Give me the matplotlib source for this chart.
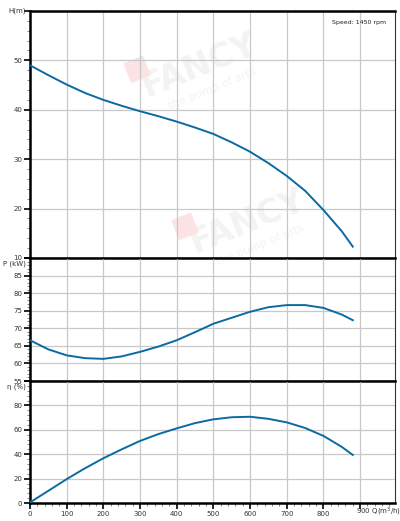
import matplotlib.pyplot as plt
from matplotlib.ticker import MultipleLocator

# Pump curves (Q in m3/h)
q = [0, 50, 100, 150, 200, 250, 300, 350, 400, 450, 500, 550, 600, 650, 700, 750, 800, 850, 880]
head = [49.0, 47.0, 45.1, 43.4, 42.0, 40.8, 39.7, 38.7, 37.6, 36.4, 35.1, 33.4, 31.5, 29.2, 26.6, 23.6, 19.7, 15.4, 12.3]
power = [66.6, 64.0, 62.3, 61.5, 61.3, 62.0, 63.3, 64.8, 66.6, 68.9, 71.3, 73.0, 74.7, 76.0, 76.6, 76.6, 75.8, 73.9, 72.3]
eff = [0.5, 10.0, 19.6, 28.5, 36.7, 44.0, 50.9, 56.5, 61.2, 65.5, 68.6, 70.3, 70.7, 69.0, 66.1, 61.5, 55.0, 46.0, 39.4]

x_ticks = [0, 100, 200, 300, 400, 500, 600, 700, 800, 900]
h_ticks = [10, 20, 30, 40, 50, 60]
p_ticks = [55, 60, 65, 70, 75, 80, 85, 90]
e_ticks = [0, 20, 40, 60, 80, 100]

line_color = "#0a6aa1"
grid_color = "#c8c8c8"
text_color = "#333333"

fig = plt.figure(figsize=(4.0, 5.21), dpi=100)
left, width = 0.075, 0.9125
ax_h = fig.add_axes([left, 0.5048, width, 0.4742])
ax_p = fig.add_axes([left, 0.2687, width, 0.2361])
ax_e = fig.add_axes([left, 0.0345, width, 0.2342])

panels = [
    (ax_h, head, h_ticks, 2, "H(m)", 0.0),
    (ax_p, power, p_ticks, 1, "P (kW)", 0.045),
    (ax_e, eff, e_ticks, 4, "η (%)", 0.045),
]

for ax, vals, yt, minor, label, off in panels:
    ax.set_facecolor("none")
    ax.plot(q, vals, color=line_color, lw=1.4, zorder=3)
    ax.set_xlim(0, 995)
    ax.set_ylim(yt[0], yt[-1])
    ax.set_xticks(x_ticks)
    ax.xaxis.set_minor_locator(MultipleLocator(20))
    ax.set_yticks(yt)
    ax.set_yticklabels([str(v) for v in yt[:-1]] + [""])
    ax.yaxis.set_minor_locator(MultipleLocator(minor))
    ax.grid(True, which="major", color=grid_color, lw=0.9, zorder=0)
    ax.tick_params(axis="both", which="major", labelsize=5, length=4, width=1.2,
                   color="black", labelcolor=text_color, pad=1.5)
    ax.tick_params(axis="both", which="minor", length=2, width=0.5, color="#555555")
    ax.spines["left"].set_linewidth(1.8)
    ax.spines["bottom"].set_linewidth(1.8)
    ax.spines["top"].set_linewidth(1.0)
    ax.spines["right"].set_linewidth(0.8)
    ax.spines["right"].set_color(text_color)
    ax.text(-0.012, 1.0 - off, label, transform=ax.transAxes,
            ha="right", va="center", fontsize=5, color=text_color)

for ax in (ax_h, ax_p):
    ax.tick_params(axis="x", which="both", bottom=False, labelbottom=False)

ax_h.spines["top"].set_linewidth(1.8)
ax_e.set_xticklabels([str(v) for v in x_ticks[:-1]] + [""])
ax_e.text(888, -2.5, "900 Q(m$^3$/h)", ha="left", va="top", fontsize=5, color=text_color)

ax_h.text(0.975, 0.965, "Speed: 1450 rpm", transform=ax_h.transAxes, ha="right",
          va="top", fontsize=4.5, color="#222222")

# faint watermark
for xy in [(0.5, 0.875), (0.62, 0.575)]:
    fig.text(xy[0], xy[1], "FANCY", fontsize=24, fontweight="bold", color="#f3f3f3",
             rotation=22, ha="center", va="center", zorder=-1)
    fig.text(xy[0] - 0.16, xy[1] - 0.005, "\u25a0", fontsize=20, color="#fbe3e3",
             rotation=22, ha="center", va="center", zorder=-1)
    fig.text(xy[0] + 0.03, xy[1] - 0.045, "the pump of arts", fontsize=8, color="#f3f3f3",
             rotation=22, ha="center", va="center", zorder=-1)

plt.savefig("out.png", dpi=100)
